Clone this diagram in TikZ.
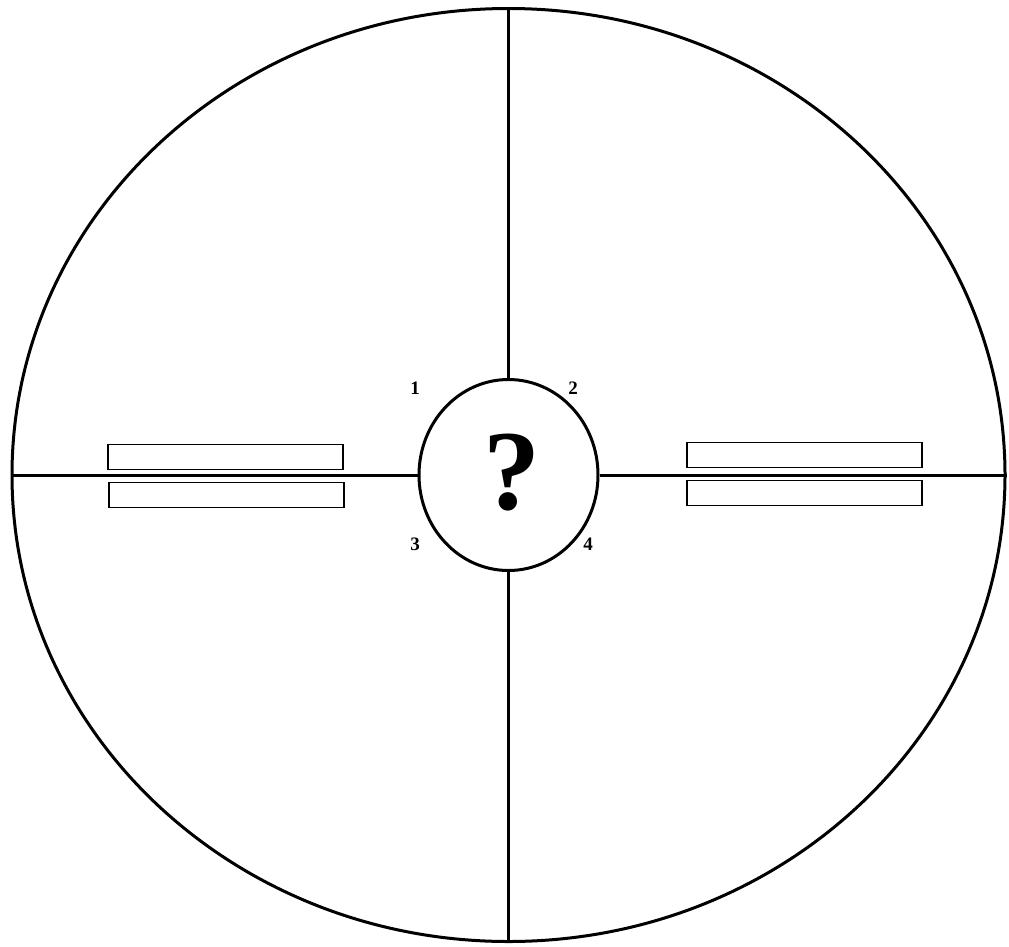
\documentclass[tikz,border=0pt]{standalone}
\usepackage{fontspec}
\setmainfont{Liberation Serif}
\usetikzlibrary{shapes.geometric}
\tikzset{
  ring/.style={draw, ellipse, line width=3pt, inner sep=0pt},
  bar/.style={draw, rectangle, line width=1.8pt, minimum width=235pt, minimum height=25pt, inner sep=0pt},
  axis/.style={line width=3pt},
  num/.style={font=\fontsize{19}{19}\selectfont\bfseries, inner sep=0pt}
}
\begin{document}
\begin{tikzpicture}[x=1pt,y=-1pt]
\useasboundingbox (0,0) rectangle (1009,946);
\node[ring, minimum width=993pt, minimum height=933pt] (big) at (508.5,475) {};
\node[ring, minimum width=179pt, minimum height=191pt] (small) at (508.5,475) {};
\node[inner sep=0pt, font=\fontsize{114}{114}\selectfont\bfseries] (q) at (512,473) {?};
\draw[axis] (big.north) -- (small.north);
\draw[axis] (small.south) -- (big.south);
\draw[axis] (big.west) -- (small.west);
\draw[axis] (small.east) -- (big.east);
\node[bar] (lt) at (225.5,457) {};
\node[bar] (lb) at (226.5,495) {};
\node[bar] (rt) at (804.5,455) {};
\node[bar] (rb) at (804.5,493) {};
\node[num] (n1) at (415,388) {1};
\node[num] (n2) at (573,388) {2};
\node[num] (n3) at (415,544) {3};
\node[num] (n4) at (588,544) {4};
\end{tikzpicture}
\end{document}
